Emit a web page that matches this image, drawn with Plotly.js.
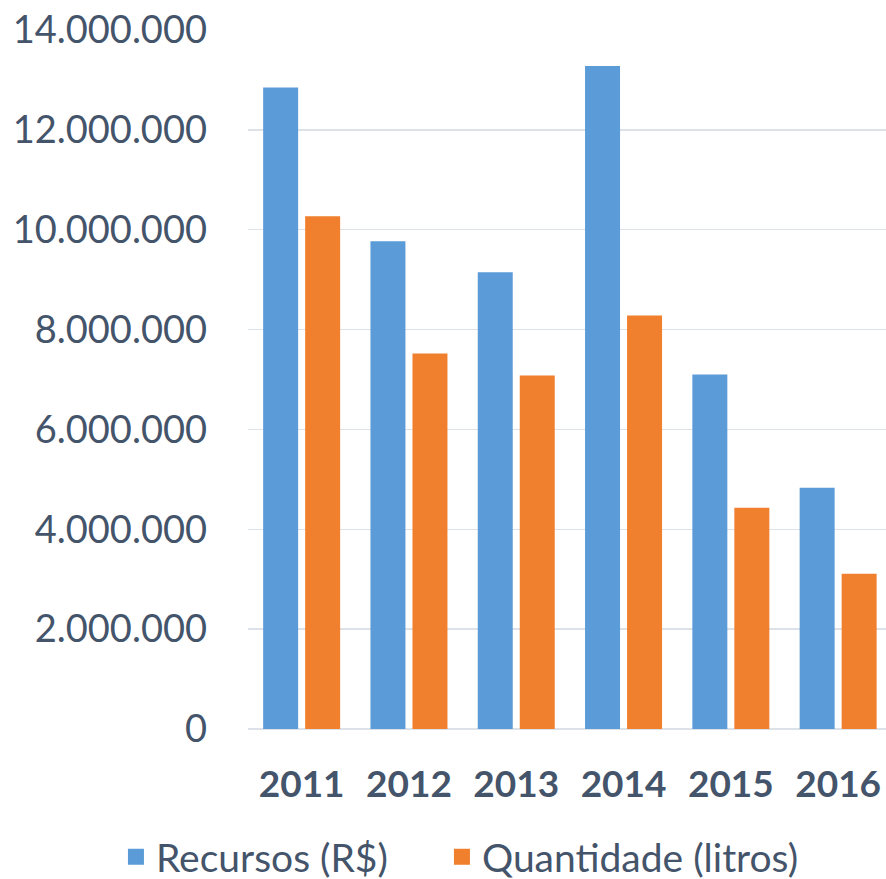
<!DOCTYPE html>
<html>
<head>
<meta charset="utf-8">
<script src="https://cdn.plot.ly/plotly-3.0.1.min.js"></script>
<style>html,body{margin:0;padding:0;background:#fff;}#chart{width:886px;height:879px;}</style>
</head>
<body>
<div id="chart"></div>
<script>
const years = ['2011', '2012', '2013', '2014', '2015', '2016'];
const recursos = [12850000, 9770000, 9150000, 13280000, 7100000, 4830000];
const quantidade = [10270000, 7520000, 7080000, 8280000, 4430000, 3110000];
const seriesNames = ['Recursos (R$)', 'Quantidade (litros)'];
const seriesColors = ['#5b9bd7', '#f07f2e'];
const yTicks = [0, 2000000, 4000000, 6000000, 8000000, 10000000, 12000000, 14000000];

const textColor = '#44546a';
const data = [
  {type: 'bar', name: seriesNames[0], x: years, y: recursos, showlegend: false,
   marker: {color: seriesColors[0]}, hoverinfo: 'x+y'},
  {type: 'bar', name: seriesNames[1], x: years, y: quantidade, showlegend: false,
   marker: {color: seriesColors[1]}, hoverinfo: 'x+y'},
  {type: 'scatter', mode: 'markers', name: seriesNames[0], x: [null], y: [null], legend: 'legend',
   marker: {symbol: 'square', size: 24, color: seriesColors[0]}},
  {type: 'scatter', mode: 'markers', name: seriesNames[1], x: [null], y: [null], legend: 'legend2',
   marker: {symbol: 'square', size: 24, color: seriesColors[1]}}
];
const legendBase = {orientation: 'h', xanchor: 'left', y: -0.183, yanchor: 'middle',
  font: {size: 39, color: textColor}, itemwidth: 30, bgcolor: 'rgba(0,0,0,0)'};
const layout = {
  width: 886, height: 879,
  margin: {l: 248, r: 0, t: 30, b: 150, pad: 0, autoexpand: false},
  paper_bgcolor: '#ffffff', plot_bgcolor: '#ffffff',
  separators: ',.',
  barmode: 'group', bargap: 0.217, bargroupgap: 0.167,
  font: {family: 'Lato, sans-serif', color: textColor, size: 36},
  xaxis: {type: 'category', range: [-0.5, 5.446], showgrid: false, zeroline: false,
    showline: false, ticks: '', tickfont: {size: 37, color: textColor, weight: 'bold'},
    ticklabelstandoff: 30, automargin: false},
  yaxis: {range: [0, 14000000], tickvals: yTicks, tickformat: ',d',
    showgrid: true, gridcolor: '#dde2e8', gridwidth: 1.5, zeroline: true, zerolinecolor: '#dde2e8', zerolinewidth: 1.5,
    showline: false, ticks: '', tickfont: {size: 38, color: textColor}, ticklabelstandoff: 40, automargin: false},
  showlegend: true,
  legend: Object.assign({}, legendBase, {x: -0.207}),
  legend2: Object.assign({}, legendBase, {x: 0.304}),
};
Plotly.newPlot('chart', data, layout, {displayModeBar: false, staticPlot: true});
</script>
</body>
</html>
